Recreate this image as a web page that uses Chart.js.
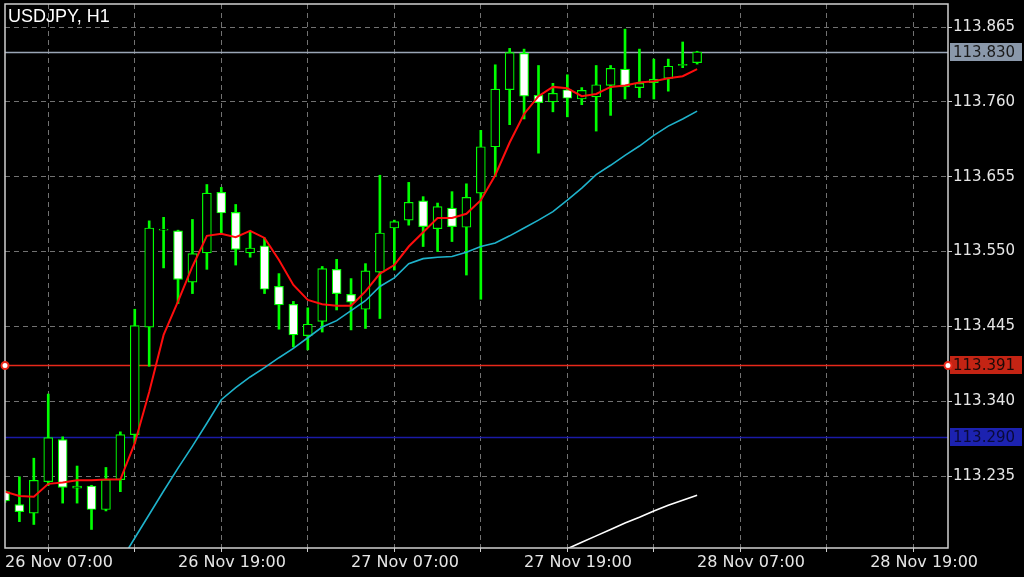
<!DOCTYPE html>
<html><head><meta charset="utf-8">
<script src="https://cdn.jsdelivr.net/npm/chart.js@4/dist/chart.umd.min.js"></script>
<style>html,body{margin:0;padding:0;background:#000;overflow:hidden}</style>
</head><body>
<canvas id="c" width="1024" height="577" style="display:block"></canvas>
<script>
// ---- data (hourly candles, index 0 = 26 Nov 07:00) ----
const title = 'USDJPY, H1';
const opens  = [113.213,113.195,113.183,113.227,113.286,113.218,113.221,113.188,113.230,113.293,113.444,113.580,113.579,113.507,113.548,113.633,113.605,113.548,113.558,113.501,113.476,113.432,113.452,113.525,113.490,113.469,113.521,113.583,113.594,113.621,113.582,113.611,113.584,113.632,113.697,113.777,113.828,113.769,113.760,113.777,113.764,113.767,113.783,113.806,113.780,113.787,113.793,113.811,113.815];
const highs  = [113.215,113.234,113.260,113.350,113.290,113.249,113.222,113.247,113.297,113.469,113.593,113.598,113.580,113.595,113.644,113.640,113.616,113.578,113.569,113.519,113.480,113.471,113.529,113.539,113.512,113.533,113.657,113.594,113.647,113.627,113.618,113.634,113.645,113.720,113.812,113.835,113.834,113.811,113.786,113.798,113.780,113.811,113.811,113.862,113.834,113.820,113.820,113.844,113.831];
const lows   = [113.198,113.171,113.167,113.222,113.197,113.197,113.160,113.186,113.213,113.281,113.389,113.527,113.477,113.491,113.525,113.576,113.531,113.542,113.491,113.441,113.416,113.412,113.437,113.468,113.440,113.442,113.456,113.524,113.587,113.557,113.550,113.564,113.517,113.483,113.655,113.728,113.736,113.688,113.746,113.739,113.756,113.719,113.741,113.764,113.766,113.764,113.775,113.808,113.813];
const closes = [113.200,113.185,113.229,113.289,113.219,113.221,113.188,113.230,113.293,113.446,113.583,113.5815,113.511,113.547,113.632,113.604,113.553,113.555,113.497,113.475,113.433,113.448,113.526,113.491,113.479,113.523,113.576,113.592,113.619,113.585,113.613,113.585,113.626,113.697,113.778,113.829,113.768,113.759,113.772,113.765,113.776,113.784,113.807,113.781,113.786,113.792,113.810,113.8125,113.830];
const maFast = [113.213,113.207,113.206,113.224,113.226,113.229,113.229,113.230,113.230,113.281,113.353,113.433,113.480,113.529,113.572,113.575,113.570,113.579,113.569,113.538,113.503,113.482,113.476,113.474,113.474,113.494,113.519,113.531,113.557,113.577,113.597,113.597,113.603,113.622,113.657,113.703,113.743,113.768,113.781,113.779,113.768,113.771,113.781,113.783,113.787,113.789,113.793,113.796,113.806];
const maMid  = [null,null,null,null,null,null,null,null,113.115,113.148,113.181,113.214,113.246,113.277,113.309,113.342,113.359,113.374,113.387,113.401,113.414,113.429,113.444,113.453,113.467,113.481,113.501,113.513,113.533,113.540,113.542,113.543,113.549,113.557,113.562,113.572,113.583,113.594,113.606,113.622,113.639,113.658,113.671,113.685,113.698,113.713,113.726,113.736,113.747];
const maSlow = [null,null,null,null,null,null,null,null,null,null,null,null,null,null,null,null,null,null,null,null,null,null,null,null,null,null,null,null,null,null,null,null,null,null,null,null,null,null,113.126,113.133,113.142,113.151,113.160,113.169,113.177,113.186,113.194,113.201,113.208];
const yTickValues = [113.235,113.340,113.445,113.550,113.655,113.760,113.865];
const xTickHours  = [0,12,24,36,48,60];
const xTickLabels = ['26 Nov 07:00','26 Nov 19:00','27 Nov 07:00','27 Nov 19:00','28 Nov 07:00','28 Nov 19:00'];
const levelValues = [113.830,113.391,113.290];
const levelLabels = ['113.830','113.391','113.290'];

// ---- styles ----
const levelLine = ['#9aa6b6','#e8281a','#1a1aa6'];
const levelBox  = ['#8a98aa','#c42414','#1c22b0'];
const levelText = ['#1a1a1a','#1a0a08','#0a0a3a'];
const GREEN = '#00ff00';

const idx = opens.map((_, i) => i);
const wickData = idx.map(i => ({x: i, y: [lows[i], highs[i]]}));
const bodyData = idx.map(i => ({x: i, y: [opens[i], closes[i]]}));
const lineData = arr => arr.map((v, i) => ({x: i, y: v}));

const overlay = {
  id: 'overlay',
  beforeDatasetsDraw(chart) {
    const {ctx, chartArea: a, scales: {y}} = chart;
    ctx.save();
    levelValues.forEach((v, i) => {
      const py = Math.round(y.getPixelForValue(v)) + 0.5;
      ctx.strokeStyle = levelLine[i];
      ctx.lineWidth = 1.5;
      ctx.beginPath(); ctx.moveTo(a.left, py); ctx.lineTo(a.right, py); ctx.stroke();
    });
    ctx.restore();
  },
  afterDraw(chart) {
    const {ctx, chartArea: a, scales: {y}} = chart;
    ctx.save();
    ctx.strokeStyle = '#d0d0d0';
    ctx.lineWidth = 1.5;
    ctx.strokeRect(a.left, a.top, a.right - a.left, a.bottom - a.top);
    ctx.fillStyle = '#ffffff';
    ctx.font = '18px "Liberation Sans", Arial, sans-serif';
    ctx.textBaseline = 'top';
    ctx.textAlign = 'left';
    ctx.fillText(title, 8, 8);
    ctx.font = '15px "DejaVu Sans", sans-serif';
    ctx.textBaseline = 'middle';
    levelValues.forEach((v, i) => {
      const py = Math.round(y.getPixelForValue(v));
      ctx.fillStyle = levelBox[i];
      ctx.fillRect(a.right + 2, py - 9, 72, 18);
      ctx.fillStyle = levelText[i];
      ctx.fillText(levelLabels[i], a.right + 5, py + 1);
    });
    const ry = Math.round(y.getPixelForValue(levelValues[1])) + 0.5;
    [a.left, a.right].forEach(px => {
      ctx.beginPath(); ctx.arc(px, ry, 3.5, 0, Math.PI * 2);
      ctx.fillStyle = '#ffffff'; ctx.fill();
      ctx.strokeStyle = '#e8281a'; ctx.lineWidth = 2; ctx.stroke();
    });
    ctx.restore();
  }
};

new Chart(document.getElementById('c'), {
  type: 'bar',
  data: {
    datasets: [
      {type: 'line', data: lineData(maFast), borderColor: '#ff0d0d', borderWidth: 2, pointRadius: 0, tension: 0, order: 1, clip: 0},
      {type: 'line', data: lineData(maMid), borderColor: '#1fb3cc', borderWidth: 1.6, pointRadius: 0, tension: 0, order: 1, clip: 0},
      {type: 'line', data: lineData(maSlow), borderColor: '#ffffff', borderWidth: 1.6, pointRadius: 0, tension: 0, order: 1, clip: 0},
      {data: bodyData, barThickness: 9, borderWidth: 1.2, borderColor: GREEN, borderSkipped: false,
       backgroundColor: ctx => (closes[ctx.dataIndex] < opens[ctx.dataIndex] ? '#ffffff' : '#000000'),
       grouped: false, order: 2, clip: 0},
      {data: wickData, barThickness: 2, borderWidth: 0, backgroundColor: GREEN, grouped: false, order: 3, clip: 0}
    ]
  },
  options: {
    responsive: false,
    animation: false,
    events: [],
    layout: {padding: {left: 5, top: 4, right: 0, bottom: 0}},
    plugins: {legend: {display: false}, tooltip: {enabled: false}, title: {display: false}},
    scales: {
      x: {
        type: 'linear', position: 'bottom', min: 0, max: 65.4, offset: false,
        afterFit: s => { s.height = 29; s.paddingLeft = 0; s.paddingRight = 0; },
        afterBuildTicks: s => { s.ticks = [0,6,12,18,24,30,36,42,48,54,60].map(v => ({value: v})); },
        ticks: {
          autoSkip: false, maxRotation: 0, align: 'start', padding: 1,
          color: '#e6e6e6', font: {family: '"DejaVu Sans", sans-serif', size: 16},
          callback: v => { const j = xTickHours.indexOf(v); return j >= 0 ? xTickLabels[j] : ''; }
        },
        grid: {color: '#727272', lineWidth: 1, tickLength: 4, tickColor: '#cfcfcf', drawTicks: true},
        border: {display: false, dash: [5, 4]}
      },
      y: {
        type: 'linear', position: 'right', min: 113.134, max: 113.8973,
        afterFit: s => { s.width = 76; s.paddingTop = 0; s.paddingBottom = 0; },
        afterBuildTicks: s => { s.ticks = yTickValues.map(v => ({value: v})); },
        ticks: {
          padding: 1, color: '#e6e6e6', font: {family: '"DejaVu Sans", sans-serif', size: 15},
          callback: v => v.toFixed(3)
        },
        grid: {color: '#727272', lineWidth: 1, tickLength: 4, tickColor: '#cfcfcf'},
        border: {display: false, dash: [5, 4]}
      }
    }
  },
  plugins: [overlay]
});
</script>
</body></html>
